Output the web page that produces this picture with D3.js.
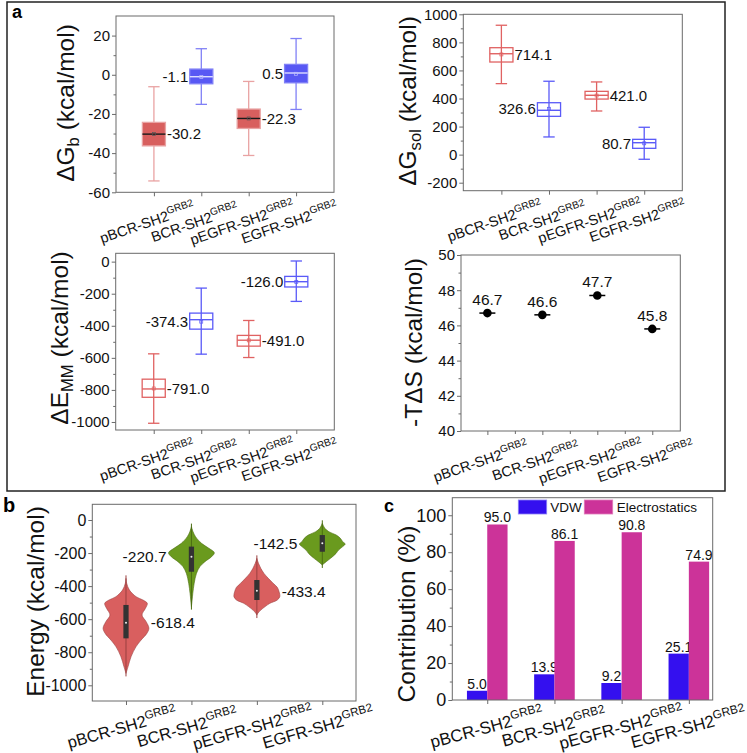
<!DOCTYPE html>
<html><head><meta charset="utf-8">
<script src="https://cdn.jsdelivr.net/npm/d3@7"></script>
<style>
body{margin:0;background:#fff}
svg{display:block}
text{font-family:"Liberation Sans",Arial,Helvetica,sans-serif}
</style>
</head><body>
<svg id="chart" width="747" height="753"></svg>
<script>
// ---------------- DATA ----------------
const categories = ["pBCR-SH2", "BCR-SH2", "pEGFR-SH2", "EGFR-SH2"];
const superscript = "GRB2";
const groupColor = ["red", "blue", "red", "blue"];

// Panel a1: ΔGb box plots
const dgbMean   = [-30.2, -1.1, -22.3, 0.5];
const dgbMedian = [-30.3, -1.0, -22.3, 0.9];
const dgbQ1     = [-36.3, -4.6, -27.4, -4.1];
const dgbQ3     = [-24.3, 2.9, -17.5, 5.3];
const dgbMin    = [-54.2, -15.1, -41.2, -17.7];
const dgbMax    = [-6.1, 13.3, -3.4, 18.5];
const dgbTicks  = [-60, -40, -20, 0, 20];

// Panel a2: ΔGsol box plots
const solMean   = [714.1, 326.6, 421.0, 80.7];
const solMedian = [719, 316, 423, 85];
const solQ1     = [660, 273, 396, 45];
const solQ3     = [762, 370, 451, 109];
const solMin    = [506, 126, 311, -33];
const solMax    = [922, 523, 518, 195];
const solTicks  = [-200, 0, 200, 400, 600, 800, 1000];

// Panel a3: ΔEMM box plots
const mmMean    = [-791.0, -374.3, -491.0, -126.0];
const mmMedian  = [-794, -362, -490, -125];
const mmQ1      = [-846, -421, -527, -158];
const mmQ3      = [-733, -321, -460, -92];
const mmMin     = [-1008, -577, -598, -248];
const mmMax     = [-575, -165, -367, 4];
const mmTicks   = [-1000, -800, -600, -400, -200, 0];

// Panel a4: -TΔS
const tdsValues = [46.7, 46.6, 47.7, 45.8];
const tdsTicks  = [40, 42, 44, 46, 48, 50];

// Panel b: violins [energy, relative density]
const violinPBCR  = [[-353,0],[-383,0.03],[-424,0.15],[-464,0.44],[-484,0.74],[-504,0.93],[-534,0.85],[-575,0.70],[-615,0.88],[-655,1.0],[-686,0.91],[-726,0.66],[-766,0.44],[-827,0.22],[-887,0.09],[-928,0]];
const violinBCR   = [[-40,0],[-71,0.07],[-101,0.18],[-141,0.44],[-171,0.76],[-198,1.0],[-222,0.88],[-252,0.59],[-282,0.37],[-323,0.22],[-383,0.12],[-444,0.06],[-484,0.03],[-524,0]];
const violinPEGFR = [[-232,0],[-262,0.07],[-292,0.17],[-323,0.31],[-353,0.5],[-383,0.71],[-407,0.89],[-434,0.97],[-464,1.0],[-484,0.89],[-504,0.57],[-524,0.36],[-545,0.17],[-565,0.04],[-575,0]];
const violinEGFR  = [[-20,0],[-50,0.11],[-71,0.29],[-91,0.61],[-111,0.79],[-131,0.89],[-145,1.0],[-161,0.89],[-182,0.71],[-202,0.6],[-232,0.36],[-252,0.17],[-272,0]];
const violinQ1     = [-716, -313, -484, -192];
const violinQ3     = [-514, -161, -363, -91];
const violinMedian = [-621, -222, -428, -141];
const violinMean   = [-618.4, -220.7, -433.4, -142.5];
const energyTicks  = [-1000, -800, -600, -400, -200, 0];

// Panel c: contributions
const vdwValues  = [5.0, 13.9, 9.2, 25.1];
const elecValues = [95.0, 86.1, 90.8, 74.9];
const seriesNames = ["VDW", "Electrostatics"];
const contribTicks = [0, 20, 40, 60, 80, 100];

// ---------------- STYLE ----------------
const FRAME = "#6a6a6a";
const TXT = "#111";
const RED_FILL = "#d85f5e", RED_LIGHT = "#e9a3a3", RED_LINE = "#e06262";
const BLUE_FILL = "#5858f4", BLUE_LIGHT = "#8080f6", BLUE_LINE = "#5a5af8";
const V_RED = "#d95f5f", V_GREEN = "#6a9a1e";
const VDW_COL = "#3410ef", ELEC_COL = "#cc3399";

const svg = d3.select("#chart");
const fmt = d => String(d);

function frame(b){
  svg.append("rect").attr("x",b.x0).attr("y",b.y0).attr("width",b.x1-b.x0).attr("height",b.y1-b.y0)
    .attr("fill","none").attr("stroke",FRAME).attr("stroke-width",1);
}
function styleAxis(g, fs){
  g.select(".domain").remove();
  g.selectAll(".tick line").attr("stroke",FRAME);
  g.selectAll(".tick text").attr("font-size",fs).attr("fill",TXT)
    .style("font-family",'"Liberation Sans",Arial,sans-serif');
}
function yAxis(b, y, majors, minors, fs){
  const g = svg.append("g").attr("transform",`translate(${b.x0},0)`)
    .call(d3.axisLeft(y).tickValues(majors).tickSize(4).tickPadding(2).tickFormat(fmt));
  styleAxis(g, fs);
  const g2 = svg.append("g").attr("transform",`translate(${b.x0},0)`)
    .call(d3.axisLeft(y).tickValues(minors).tickSize(2.5).tickFormat(""));
  styleAxis(g2, fs);
}
function xAxis(b, x, minors){
  const g = svg.append("g").attr("transform",`translate(0,${b.y1})`)
    .call(d3.axisBottom(x).tickValues([1,2,3,4]).tickSize(4).tickFormat(""));
  styleAxis(g, 10);
  if(minors){
    const g2 = svg.append("g").attr("transform",`translate(0,${b.y1})`)
      .call(d3.axisBottom(x).tickValues(minors).tickSize(3).tickFormat(""));
    styleAxis(g2, 10);
  }
}
function xLabels(b, x, fs, angle, dx, dy){
  categories.forEach((c,i)=>{
    const t = svg.append("text")
      .attr("transform",`translate(${x(i+1)+dx},${b.y1+dy}) rotate(${-angle})`)
      .attr("text-anchor","middle").attr("font-size",fs).attr("fill",TXT);
    t.append("tspan").text(c);
    t.append("tspan").attr("font-size",fs*0.7).attr("dy",-fs*0.42).text(superscript);
  });
}
function yLabel(xb, yc, parts, fs){
  const t = svg.append("text").attr("transform",`translate(${xb},${yc}) rotate(-90)`)
    .attr("text-anchor","middle").attr("font-size",fs).attr("fill",TXT);
  let shift = 0;
  parts.forEach(p=>{
    const sp = t.append("tspan").text(p[0]);
    if(p[1]==="sub"){
      sp.attr("font-size",fs*0.68).attr("dy",fs*0.22 - shift); shift = fs*0.22;
    } else {
      if(shift){ sp.attr("dy",-shift); shift = 0; }
    }
  });
}
function panelLetter(x, y, s, fs){
  svg.append("text").attr("x",x).attr("y",y).attr("font-size",fs).attr("font-weight","bold").attr("fill","#000").text(s);
}

// Outer frame of panel a
svg.append("rect").attr("x",7).attr("y",2).attr("width",718).attr("height",489)
  .attr("fill","none").attr("stroke","#222").attr("stroke-width",1.5);
panelLetter(12, 18, "a", 18);

// Box-plot drawer
function boxPlot(b, x, y, data, filled, labelFs){
  const {mean, median, q1, q3, mn, mx} = data;
  const hw = 0.243, cap = 0.12;
  categories.forEach((c,i)=>{
    const cx = i+1, red = groupColor[i]==="red";
    const lineCol = filled ? (red?RED_LIGHT:BLUE_LIGHT) : (red?RED_LINE:BLUE_LINE);
    const g = svg.append("g");
    g.append("line").attr("x1",x(cx)).attr("x2",x(cx)).attr("y1",y(mx[i])).attr("y2",y(mn[i]))
      .attr("stroke",lineCol).attr("stroke-width",1.3);
    [mn[i], mx[i]].forEach(v=>{
      g.append("line").attr("x1",x(cx-cap)).attr("x2",x(cx+cap)).attr("y1",y(v)).attr("y2",y(v))
        .attr("stroke",lineCol).attr("stroke-width",1.3);
    });
    g.append("rect").attr("x",x(cx-hw)).attr("width",x(cx+hw)-x(cx-hw))
      .attr("y",y(q3[i])).attr("height",y(q1[i])-y(q3[i]))
      .attr("fill", filled ? (red?RED_FILL:BLUE_FILL) : "none")
      .attr("stroke", lineCol).attr("stroke-width",1.3);
    g.append("line").attr("x1",x(cx-hw)).attr("x2",x(cx+hw)).attr("y1",y(median[i])).attr("y2",y(median[i]))
      .attr("stroke", filled ? (red?"#1a1a1a":"#dcdcff") : lineCol).attr("stroke-width",1.4);
    g.append("rect").attr("x",x(cx)-1.5).attr("y",y(mean[i])-1.5).attr("width",3).attr("height",3)
      .attr("fill","none").attr("stroke", filled ? (red?"#555":"#bbbbff") : lineCol).attr("stroke-width",0.7);
    const lx = red ? x(cx+hw)+1.5 : x(cx-hw)-1.5;
    svg.append("text").attr("x",lx).attr("y",y(mean[i])).attr("dy","0.36em")
      .attr("text-anchor", red ? "start" : "end").attr("font-size",labelFs).attr("fill",TXT)
      .text(mean[i].toFixed(1));
  });
}

// ---- a1 ΔGb ----
{
  const b = {x0:116, x1:334, y0:16, y1:192.3};
  const x = d3.scaleLinear().domain([0.2,4.8]).range([b.x0,b.x1]);
  const y = d3.scaleLinear().domain([-60,30]).range([b.y1,b.y0]);
  boxPlot(b, x, y, {mean:dgbMean, median:dgbMedian, q1:dgbQ1, q3:dgbQ3, mn:dgbMin, mx:dgbMax}, true, 15);
  frame(b);
  yAxis(b, y, dgbTicks, [-50,-30,-10,10], 15);
  xAxis(b, x);
  xLabels(b, x, 14.5, 19, -5, 35);
  yLabel(74, 103, [["ΔG",""],["b","sub"],[" (kcal/mol)",""]], 24.5);
}
// ---- a2 ΔGsol ----
{
  const b = {x0:463.3, x1:682.3, y0:14.3, y1:190.7};
  const x = d3.scaleLinear().domain([0.2,4.8]).range([b.x0,b.x1]);
  const y = d3.scaleLinear().domain([-257,1000]).range([b.y1,b.y0]);
  boxPlot(b, x, y, {mean:solMean, median:solMedian, q1:solQ1, q3:solQ3, mn:solMin, mx:solMax}, false, 15);
  frame(b);
  yAxis(b, y, solTicks, [-100,100,300,500,700,900], 15);
  xAxis(b, x);
  xLabels(b, x, 14.5, 19, -5, 35);
  yLabel(415.5, 101, [["ΔG",""],["sol","sub"],[" (kcal/mol)",""]], 24.5);
}
// ---- a3 ΔEMM ----
{
  const b = {x0:115.7, x1:334.3, y0:253.3, y1:430};
  const x = d3.scaleLinear().domain([0.2,4.8]).range([b.x0,b.x1]);
  const y = d3.scaleLinear().domain([-1050,52]).range([b.y1,b.y0]);
  boxPlot(b, x, y, {mean:mmMean, median:mmMedian, q1:mmQ1, q3:mmQ3, mn:mmMin, mx:mmMax}, false, 15);
  frame(b);
  yAxis(b, y, mmTicks, [-900,-700,-500,-300,-100], 15);
  xAxis(b, x);
  xLabels(b, x, 14.5, 19, -5, 35);
  yLabel(68, 338, [["ΔE",""],["MM","sub"],[" (kcal/mol)",""]], 24.5);
}
// ---- a4 -TΔS ----
{
  const b = {x0:461, x1:680.3, y0:255, y1:431};
  const x = d3.scaleLinear().domain([0.52,4.51]).range([b.x0,b.x1]);
  const y = d3.scaleLinear().domain([40,50]).range([b.y1,b.y0]);
  frame(b);
  yAxis(b, y, tdsTicks, [41,43,45,47,49], 15);
  xAxis(b, x, [1.5,2.5,3.5]);
  xLabels(b, x, 14.5, 19, -5, 35);
  tdsValues.forEach((v,i)=>{
    svg.append("line").attr("x1",x(i+1)-8).attr("x2",x(i+1)+8).attr("y1",y(v)).attr("y2",y(v))
      .attr("stroke","#000").attr("stroke-width",1.5);
    svg.append("circle").attr("cx",x(i+1)).attr("cy",y(v)).attr("r",4.3).attr("fill","#000");
    svg.append("text").attr("x",x(i+1)).attr("y",y(v)-8).attr("text-anchor","middle")
      .attr("font-size",15.5).attr("fill",TXT).text(v.toFixed(1));
  });
  yLabel(422, 342.5, [["-TΔS (kcal/mol)",""]], 24.5);
}

// ---- b violins ----
{
  panelLetter(3, 512, "b", 20);
  const b = {x0:92.3, x1:356, y0:504.3, y1:701};
  const x = d3.scaleLinear().domain([0.485,4.515]).range([b.x0,b.x1]);
  const y = d3.scaleLinear().domain([-1095,95]).range([b.y1,b.y0]);
  const w = d3.scaleLinear().domain([0,1]).range([0,0.35]);
  const violins = [violinPBCR, violinBCR, violinPEGFR, violinEGFR];
  violins.forEach((vd,i)=>{
    const cx = i+1, red = groupColor[i]==="red";
    const fill = red ? V_RED : V_GREEN;
    const stroke = red ? "#9a4040" : "#4b6d12";
    const area = d3.area().curve(d3.curveCatmullRom)
      .y(d=>y(d[0])).x0(d=>x(cx - w(d[1]))).x1(d=>x(cx + w(d[1])));
    svg.append("path").datum(vd).attr("d",area).attr("fill",fill).attr("stroke",stroke).attr("stroke-width",0.6);
    svg.append("line").attr("x1",x(cx)).attr("x2",x(cx)).attr("y1",y(vd[0][0])-3).attr("y2",y(vd[vd.length-1][0])+3)
      .attr("stroke",stroke).attr("stroke-width",1);
    const bw = 0.04;
    svg.append("rect").attr("x",x(cx-bw)).attr("width",x(cx+bw)-x(cx-bw))
      .attr("y",y(violinQ3[i])).attr("height",y(violinQ1[i])-y(violinQ3[i]))
      .attr("fill","#333");
    svg.append("circle").attr("cx",x(cx)).attr("cy",y(violinMedian[i])).attr("r",1).attr("fill","#eee");
    const off = 0.38;
    svg.append("text").attr("x", red ? x(cx+off) : x(cx-off)).attr("y",y(violinMean[i])).attr("dy","0.36em")
      .attr("text-anchor", red ? "start" : "end").attr("font-size",15.5).attr("fill",TXT)
      .text(violinMean[i].toFixed(1));
  });
  frame(b);
  yAxis(b, y, energyTicks, [-900,-700,-500,-300,-100], 16);
  xAxis(b, x);
  xLabels(b, x, 16.5, 16, -2.5, 32);
  yLabel(44, 601.5, [["Energy (kcal/mol)",""]], 24.5);
}

// ---- c bars ----
{
  panelLetter(384, 512, "c", 18);
  const b = {x0:452.3, x1:712.7, y0:497.7, y1:700};
  const x = d3.scaleLinear().domain([0.48,4.355]).range([b.x0,b.x1]);
  const y = d3.scaleLinear().domain([0,109.5]).range([b.y1,b.y0]);
  const bw = 0.302;
  const series = [vdwValues, elecValues];
  const cols = [VDW_COL, ELEC_COL];
  series.forEach((vals,s)=>{
    vals.forEach((v,i)=>{
      const x0 = s===0 ? i+1-bw : i+1;
      svg.append("rect").attr("x",x(x0)).attr("width",x(x0+bw)-x(x0))
        .attr("y",y(v)).attr("height",y(0)-y(v)).attr("fill",cols[s]);
      svg.append("text").attr("x",x(x0+bw/2)).attr("y",y(v)-2).attr("text-anchor","middle")
        .attr("font-size",14).attr("fill",TXT).text(v.toFixed(1));
    });
  });
  frame(b);
  yAxis(b, y, contribTicks, [10,30,50,70,90], 18);
  xAxis(b, x);
  xLabels(b, x, 17, 15, 1, 33);
  yLabel(415, 614, [["Contribution (%)",""]], 24.5);
  // legend
  const lg = [{x:518.3, tx:550.3}, {x:584.3, tx:616.7}];
  lg.forEach((l,s)=>{
    svg.append("rect").attr("x",l.x).attr("y",500).attr("width",28.4).attr("height",14)
      .attr("fill",cols[s]).attr("stroke", s===0 ? "#8a80f6" : "#e07ab8").attr("stroke-width",0.8);
    svg.append("text").attr("x",l.tx).attr("y",507).attr("dy","0.36em").attr("font-size",13.5)
      .attr("fill",TXT).text(seriesNames[s]);
  });
}
</script>
</body></html>
